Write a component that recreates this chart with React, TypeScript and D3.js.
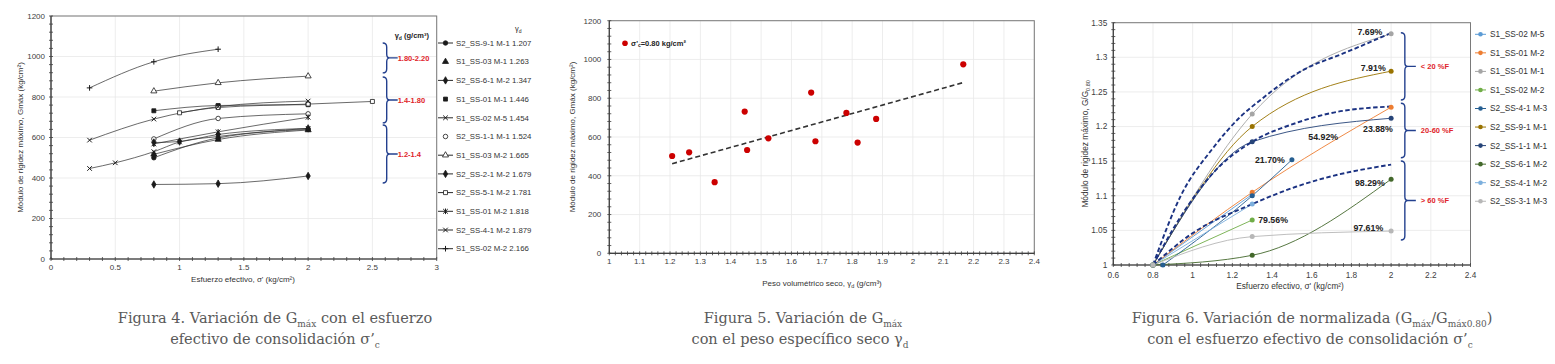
import React from 'react';
import * as d3 from 'd3';

const SANS = '"Liberation Sans", Arial, Helvetica, sans-serif';
const SERIF = '"DejaVu Serif", "Liberation Serif", serif';
const GRID_COLOR = '#e8e8e8';
const AXIS_DARK = '#404040';
const BRACE_COLOR = '#23408e';
const RED = '#e0242a';

// ---------------- Figura 4 ----------------
const fig4Names = ['S2_SS-9-1 M-1', 'S1_SS-03 M-1', 'S2_SS-6-1 M-2', 'S1_SS-01 M-1', 'S1_SS-02 M-5', 'S2_SS-1-1 M-1',
  'S1_SS-03 M-2', 'S2_SS-2-1 M-2', 'S2_SS-5-1 M-2', 'S1_SS-01 M-2', 'S2_SS-4-1 M-2', 'S1_SS-02 M-2'];
const fig4Gd = [1.207, 1.263, 1.347, 1.446, 1.454, 1.524, 1.665, 1.679, 1.781, 1.818, 1.879, 2.166];
const fig4Marker = ['circle', 'triangle', 'diamond', 'square', 'x', 'circle', 'triangle', 'diamond', 'square', 'star', 'x', 'plus'];
const fig4Filled = [true, true, true, true, true, false, false, true, false, true, true, true];
const fig4LegendLine = [true, false, true, false, true, false, true, true, true, true, true, true];
const fig4Sigma = [
  [0.8, 1.3, 2.0],
  [0.8, 1.3, 2.0],
  [0.8, 1.3, 2.0],
  [0.8, 1.3, 2.0],
  [0.3, 0.5, 0.8, 1.0, 1.3, 2.0],
  [0.8, 1.3, 2.0],
  [0.8, 1.3, 2.0],
  [0.8, 1.0, 1.3, 2.0],
  [1.0, 1.3, 2.0, 2.5],
  [0.8, 1.3, 2.0],
  [0.3, 0.8, 1.3, 2.0],
  [0.3, 0.8, 1.3],
];
const fig4G = [
  [500, 598, 640],
  [517, 590, 637],
  [368, 372, 410],
  [732, 758, 762],
  [447, 475, 530, 578, 605, 645],
  [593, 694, 717],
  [829, 870, 903],
  [575, 580, 615, 645],
  [722, 748, 765, 778],
  [568, 628, 700],
  [587, 691, 752, 780],
  [845, 974, 1036],
];
const fig4XTicks = [0, 0.5, 1, 1.5, 2, 2.5, 3];
const fig4YTicks = [0, 200, 400, 600, 800, 1000, 1200];
const fig4BraceLabels = ['1.80-2.20', '1.4-1.80', '1.2-1.4'];
const fig4BraceTop = [1067, 899, 662];
const fig4BraceBottom = [919, 672, 375];

// ---------------- Figura 5 ----------------
const fig5Gd = [1.207, 1.263, 1.347, 1.446, 1.454, 1.524, 1.665, 1.679, 1.781, 1.818, 1.879, 2.166];
const fig5G = [502, 521, 367, 731, 533, 593, 829, 578, 724, 571, 693, 975];
const fig5XTicks = [1, 1.1, 1.2, 1.3, 1.4, 1.5, 1.6, 1.7, 1.8, 1.9, 2, 2.1, 2.2, 2.3, 2.4];
const fig5YTicks = [0, 200, 400, 600, 800, 1000, 1200];

// ---------------- Figura 6 ----------------
const fig6Names = ['S1_SS-02 M-5', 'S1_SS-01 M-2', 'S1_SS-01 M-1', 'S1_SS-02 M-2', 'S2_SS-4-1 M-3',
  'S2_SS-9-1 M-1', 'S2_SS-1-1 M-1', 'S2_SS-6-1 M-2', 'S2_SS-4-1 M-2', 'S2_SS-3-1 M-3'];
const fig6Colors = ['#5b9bd5', '#ed7d31', '#a5a5a5', '#70ad47', '#255e91', '#997300', '#264478', '#43682b', '#7cafdd', '#b7b7b7'];
const fig6Sigma = [
  [0.8, 1.3],
  [0.8, 1.3, 2.0],
  [0.8, 1.3, 2.0],
  [0.8, 1.3],
  [0.85, 1.3, 1.5],
  [0.8, 1.3, 2.0],
  [0.8, 1.3, 2.0],
  [0.8, 1.3, 2.0],
  [0.8, 1.3],
  [0.8, 1.3, 2.0],
];
const fig6Ratio = [
  [1, 1.102],
  [1, 1.105, 1.228],
  [1, 1.218, 1.334],
  [1, 1.065],
  [1, 1.1, 1.152],
  [1, 1.2, 1.28],
  [1, 1.178, 1.212],
  [1, 1.014, 1.124],
  [1, 1.088],
  [1, 1.041, 1.049],
];
const fig6TrendSigma = [
  [0.8, 0.94, 1.1, 1.24, 1.34, 1.54, 1.78, 2.0],
  [0.8, 0.94, 1.1, 1.3, 1.52, 1.69, 2.0],
  [0.8, 1.0, 1.3, 1.52, 1.69, 2.0],
];
const fig6TrendRatio = [
  [1, 1.1, 1.168, 1.214, 1.238, 1.279, 1.308, 1.335],
  [1, 1.07, 1.132, 1.178, 1.205, 1.219, 1.229],
  [1, 1.046, 1.088, 1.113, 1.1275, 1.145],
];
const fig6PctText = ['7.69%', '7.91%', '23.88%', '54.92%', '21.70%', '98.29%', '79.56%', '97.61%'];
const fig6PctX = [1.893, 1.91, 1.9335, 1.658, 1.389, 1.893, 1.405, 1.885];
const fig6PctY = [1.3361, 1.2841, 1.196, 1.1844, 1.1512, 1.1189, 1.0654, 1.0539];
const fig6XTicks = [0.6, 0.8, 1, 1.2, 1.4, 1.6, 1.8, 2, 2.2, 2.4];
const fig6YTicks = [1, 1.05, 1.1, 1.15, 1.2, 1.25, 1.3, 1.35];
const fig6BraceLabels = ['< 20 %F', '20-60 %F', '> 60 %F'];
const fig6BraceTop = [1.3355, 1.2336, 1.1502];
const fig6BraceBottom = [1.2383, 1.155, 1.0361];

const fmt = (v: number) => String(+v.toFixed(2));

function PlotFrame({ x, y, xTicks, yTicks, xGrid, yGrid, xMinor, yMinor, xOff, yOff, fontSize }: any) {
  const [left, right] = x.range();
  const [bottom, top] = y.range();
  return (
    <g fontFamily={SANS} fontSize={fontSize} fill="#404040">
      {xGrid.map((v: number) => (
        <line key={'gx' + v} x1={x(v)} x2={x(v)} y1={top} y2={bottom} stroke={GRID_COLOR} strokeWidth={0.8} />
      ))}
      {yGrid.map((v: number) => (
        <line key={'gy' + v} x1={left} x2={right} y1={y(v)} y2={y(v)} stroke={GRID_COLOR} strokeWidth={0.8} />
      ))}
      <rect x={left} y={top} width={right - left} height={bottom - top} fill="none" stroke="#7a7a7a" strokeWidth={1} />
      <line x1={left} x2={right} y1={bottom} y2={bottom} stroke={AXIS_DARK} strokeWidth={1.2} />
      <line x1={left} x2={left} y1={top} y2={bottom} stroke={AXIS_DARK} strokeWidth={1.2} />
      {xMinor.map((v: number, i: number) => (
        <line key={'mx' + i} x1={x(v)} x2={x(v)} y1={bottom - 2} y2={bottom + 2} stroke={AXIS_DARK} strokeWidth={0.8} />
      ))}
      {yMinor.map((v: number, i: number) => (
        <line key={'my' + i} x1={left - 2} x2={left + 2} y1={y(v)} y2={y(v)} stroke={AXIS_DARK} strokeWidth={0.8} />
      ))}
      {xTicks.map((v: number) => (
        <text key={'tx' + v} x={x(v)} y={bottom + xOff} textAnchor="middle">{fmt(v)}</text>
      ))}
      {yTicks.map((v: number) => (
        <text key={'ty' + v} x={left - yOff} y={y(v)} dy="0.35em" textAnchor="end">{fmt(v)}</text>
      ))}
    </g>
  );
}

function Marker({ type, cx, cy, filled }: any) {
  const s = 2.3;
  const c = '#1a1a1a';
  if (type === 'x') {
    return <path d={`M${cx - s},${cy - s}L${cx + s},${cy + s}M${cx - s},${cy + s}L${cx + s},${cy - s}`} stroke={c} strokeWidth={1} />;
  }
  if (type === 'plus') {
    return <path d={`M${cx - s - 0.5},${cy}L${cx + s + 0.5},${cy}M${cx},${cy - s - 0.5}L${cx},${cy + s + 0.5}`} stroke={c} strokeWidth={1} />;
  }
  if (type === 'star') {
    return <path d={`M${cx - s},${cy - s}L${cx + s},${cy + s}M${cx - s},${cy + s}L${cx + s},${cy - s}M${cx},${cy - s - 0.5}L${cx},${cy + s + 0.5}`} stroke={c} strokeWidth={1} />;
  }
  const sym: any = { circle: d3.symbolCircle, triangle: d3.symbolTriangle, diamond: d3.symbolDiamond, square: d3.symbolSquare }[type];
  const d = d3.symbol(sym, 16)() as string;
  return <path d={d} transform={`translate(${cx},${cy})`} fill={filled ? c : '#fff'} stroke={c} strokeWidth={0.8} />;
}

// curly brace "}" from y1 to y2 at x0, tip to the right
function bracePath(x0: number, y1: number, y2: number) {
  const ym = (y1 + y2) / 2;
  const sx = x0 + 4;
  return `M${x0},${y1} Q${sx},${y1} ${sx},${y1 + 4} L${sx},${ym - 4} Q${sx},${ym} ${sx + 3},${ym} ` +
    `Q${sx},${ym} ${sx},${ym + 4} L${sx},${y2 - 4} Q${sx},${y2} ${x0},${y2} M${sx + 3},${ym} L${sx + 11},${ym}`;
}

function Figure4() {
  const x = d3.scaleLinear().domain([0, 3]).range([51, 436.7]);
  const y = d3.scaleLinear().domain([0, 1200]).range([259, 16]);
  const line = d3.line<number[]>().x(d => x(d[0])).y(d => y(d[1])).curve(d3.curveMonotoneX);
  const braceX = x(2.58);
  const legX = 438;
  const legY0 = 43;
  const legDy = 18.7;
  return (
    <g>
      <PlotFrame x={x} y={y} xTicks={fig4XTicks} yTicks={fig4YTicks} xGrid={fig4XTicks} yGrid={fig4YTicks}
        xMinor={d3.range(0, 3.001, 0.1)} yMinor={d3.range(0, 1201, 40)} xOff={10.5} yOff={6} fontSize={8} />
      {fig4Sigma.map((sx, i) => (
        <path key={'l' + i} d={line(sx.map((s, j) => [s, fig4G[i][j]])) as string} fill="none" stroke="#2a2a2a" strokeWidth={0.7} />
      ))}
      {fig4Sigma.map((sx, i) => sx.map((s, j) => (
        <Marker key={'m' + i + '-' + j} type={fig4Marker[i]} cx={x(s)} cy={y(fig4G[i][j])} filled={fig4Filled[i]} />
      )))}
      {/* rangos de peso volumetrico */}
      <text x={braceX + 12} y={y(1100) + 2} fontFamily={SANS} fontSize={7.5} fontWeight="bold" fill="#222">
        γ<tspan fontSize={5} dy={1.5}>d</tspan><tspan dy={-1.5}> (g/cm³)</tspan>
      </text>
      {fig4BraceLabels.map((lab, i) => (
        <g key={'b' + i}>
          <path d={bracePath(braceX, y(fig4BraceTop[i]), y(fig4BraceBottom[i]))} fill="none" stroke={BRACE_COLOR} strokeWidth={1.4} />
          <text x={braceX + 15} y={(y(fig4BraceTop[i]) + y(fig4BraceBottom[i])) / 2} dy="0.35em" fontFamily={SANS}
            fontSize={7.5} fontWeight="bold" fill={RED}>{lab}</text>
        </g>
      ))}
      {/* leyenda */}
      <text x={515} y={31} fontFamily={SANS} fontSize={7.5} fill="#222">γ<tspan fontSize={5} dy={1.5}>d</tspan></text>
      {fig4Names.map((n, i) => {
        const ly = legY0 + i * legDy;
        return (
          <g key={'lg' + i}>
            {fig4LegendLine[i] && <line x1={legX} x2={legX + 15} y1={ly} y2={ly} stroke="#2a2a2a" strokeWidth={1} />}
            <Marker type={fig4Marker[i]} cx={legX + 7.5} cy={ly} filled={fig4Filled[i]} />
            <text x={legX + 18} y={ly} dy="0.35em" fontFamily={SANS} fontSize={7.8} fill="#333">{n + ' ' + fig4Gd[i].toFixed(3)}</text>
          </g>
        );
      })}
      <text transform={`translate(23,${(y(0) + y(1200)) / 2}) rotate(-90)`} textAnchor="middle" fontFamily={SANS} fontSize={8} fill="#333">
        Módulo de rigidez máximo, Gmáx (kg/cm²)
      </text>
      <text x={243} y={282} textAnchor="middle" fontFamily={SANS} fontSize={8} fill="#333">
        Esfuerzo efectivo, σ' (kg/cm²)
      </text>
    </g>
  );
}

function Figure5() {
  const x = d3.scaleLinear().domain([1, 2.4]).range([609.3, 1034.3]);
  const y = d3.scaleLinear().domain([0, 1200]).range([253.3, 20.7]);
  const mx = d3.mean(fig5Gd) as number;
  const my = d3.mean(fig5G) as number;
  const slope = d3.sum(fig5Gd, (g, i) => (g - mx) * (fig5G[i] - my)) / d3.sum(fig5Gd, g => (g - mx) ** 2);
  const [g0, g1] = d3.extent(fig5Gd) as [number, number];
  const fit = (g: number) => my + slope * (g - mx);
  return (
    <g>
      <PlotFrame x={x} y={y} xTicks={fig5XTicks} yTicks={fig5YTicks} xGrid={fig5XTicks} yGrid={fig5YTicks}
        xMinor={d3.range(1, 2.4001, 0.02)} yMinor={d3.range(0, 1201, 40)} xOff={11} yOff={8} fontSize={8} />
      <line x1={x(g0)} x2={x(g1)} y1={y(fit(g0))} y2={y(fit(g1))} stroke="#333" strokeWidth={1.6} strokeDasharray="5,3" />
      {fig5Gd.map((g, i) => (
        <circle key={i} cx={x(g)} cy={y(fig5G[i])} r={3.1} fill="#cc0000" />
      ))}
      <circle cx={625} cy={43.3} r={2.8} fill="#cc0000" />
      <text x={631} y={43.3} dy="0.35em" fontFamily={SANS} fontSize={7.5} fontWeight="bold" fill="#222">
        σ'<tspan fontSize={5} dy={1.5}>c</tspan><tspan dy={-1.5}>=0.80 kg/cm²</tspan>
      </text>
      <text transform={`translate(575,${(y(0) + y(1200)) / 2}) rotate(-90)`} textAnchor="middle" fontFamily={SANS} fontSize={8} fill="#333">
        Módulo de rigidez máximo, Gmáx (kg/cm²)
      </text>
      <text x={822} y={286} textAnchor="middle" fontFamily={SANS} fontSize={8} fill="#333">
        Peso volumétrico seco, γ<tspan fontSize={5.5} dy={1.5}>d</tspan><tspan dy={-1.5}> (g/cm³)</tspan>
      </text>
    </g>
  );
}

function Figure6() {
  const x = d3.scaleLinear().domain([0.6, 2.4]).range([1113.3, 1470.5]);
  const y = d3.scaleLinear().domain([1, 1.35]).range([265, 22.7]);
  const line = d3.line<number[]>().x(d => x(d[0])).y(d => y(d[1])).curve(d3.curveMonotoneX);
  const braceX = x(2.049);
  const legX = 1475;
  const legY0 = 34.3;
  const legDy = 18.55;
  return (
    <g>
      <PlotFrame x={x} y={y} xTicks={fig6XTicks} yTicks={fig6YTicks} xGrid={fig6XTicks} yGrid={fig6YTicks}
        xMinor={d3.range(0.6, 2.4001, 0.04)} yMinor={d3.range(1, 1.3501, 0.01)} xOff={12.5} yOff={6} fontSize={8.3} />
      {fig6Sigma.map((sx, i) => (
        <path key={'l' + i} d={line(sx.map((s, j) => [s, fig6Ratio[i][j]])) as string} fill="none" stroke={fig6Colors[i]} strokeWidth={0.9} />
      ))}
      {fig6TrendSigma.map((sx, i) => (
        <path key={'t' + i} d={line(sx.map((s, j) => [s, fig6TrendRatio[i][j]])) as string} fill="none"
          stroke="#1b3282" strokeWidth={1.9} strokeDasharray="4.5,2.5" />
      ))}
      {fig6Sigma.map((sx, i) => sx.map((s, j) => (
        <circle key={'p' + i + '-' + j} cx={x(s)} cy={y(fig6Ratio[i][j])} r={2.5} fill={fig6Colors[i]} />
      )))}
      {fig6PctText.map((t, i) => (
        <text key={'pc' + i} x={x(fig6PctX[i])} y={y(fig6PctY[i])} dy="0.35em" textAnchor="middle" fontFamily={SANS}
          fontSize={8.8} fontWeight="bold" fill="#222">{t}</text>
      ))}
      {fig6BraceLabels.map((lab, i) => (
        <g key={'b' + i}>
          <path d={bracePath(braceX, y(fig6BraceTop[i]), y(fig6BraceBottom[i]))} fill="none" stroke={BRACE_COLOR} strokeWidth={1.4} />
          <text x={braceX + 20} y={(y(fig6BraceTop[i]) + y(fig6BraceBottom[i])) / 2} dy="0.35em" fontFamily={SANS}
            fontSize={7.5} fontWeight="bold" fill={RED}>{lab}</text>
        </g>
      ))}
      {fig6Names.map((n, i) => {
        const ly = legY0 + i * legDy;
        return (
          <g key={'lg' + i}>
            <line x1={legX} x2={legX + 11} y1={ly} y2={ly} stroke={fig6Colors[i]} strokeWidth={1} />
            <circle cx={legX + 5.5} cy={ly} r={2.3} fill={fig6Colors[i]} />
            <text x={legX + 15} y={ly} dy="0.35em" fontFamily={SANS} fontSize={8.3} fill="#333">{n}</text>
          </g>
        );
      })}
      <text transform={`translate(1088,${(y(1) + y(1.35)) / 2}) rotate(-90)`} textAnchor="middle" fontFamily={SANS} fontSize={8.3} fill="#333">
        Módulo de rigidez máximo, G/G<tspan fontSize={5.5} dy={1.5}>0.80</tspan>
      </text>
      <text x={1290} y={289} textAnchor="middle" fontFamily={SANS} fontSize={8.3} fill="#333">
        Esfuerzo efectivo, σ' (kg/cm²)
      </text>
    </g>
  );
}

function Sub({ children }: any) {
  return <tspan fontSize={9} dy={4}>{children}</tspan>;
}

function Captions() {
  const common = { fontFamily: SERIF, fontSize: 14.5, fill: '#5a5a5a', textAnchor: 'middle' as const };
  return (
    <g>
      <text x={275} y={323} {...common}>Figura 4. Variación de G<Sub>máx</Sub><tspan dy={-4}> con el esfuerzo</tspan></text>
      <text x={275} y={344} {...common}>efectivo de consolidación σ’<Sub>c</Sub></text>
      <text x={803} y={323} {...common}>Figura 5. Variación de G<Sub>máx</Sub></text>
      <text x={800} y={344} {...common}>con el peso específico seco γ<Sub>d</Sub></text>
      <text x={1312} y={323} {...common}>Figura 6. Variación de normalizada (G<Sub>máx</Sub><tspan dy={-4}>/G</tspan><Sub>máx0.80</Sub><tspan dy={-4}>)</tspan></text>
      <text x={1310} y={344} {...common}>con el esfuerzo efectivo de consolidación σ’<Sub>c</Sub></text>
    </g>
  );
}

export default function App() {
  return (
    <svg width={1555} height={364} style={{ position: 'absolute', left: 0, top: 0, background: '#fff' }}>
      <Figure4 />
      <Figure5 />
      <Figure6 />
      <Captions />
    </svg>
  );
}
